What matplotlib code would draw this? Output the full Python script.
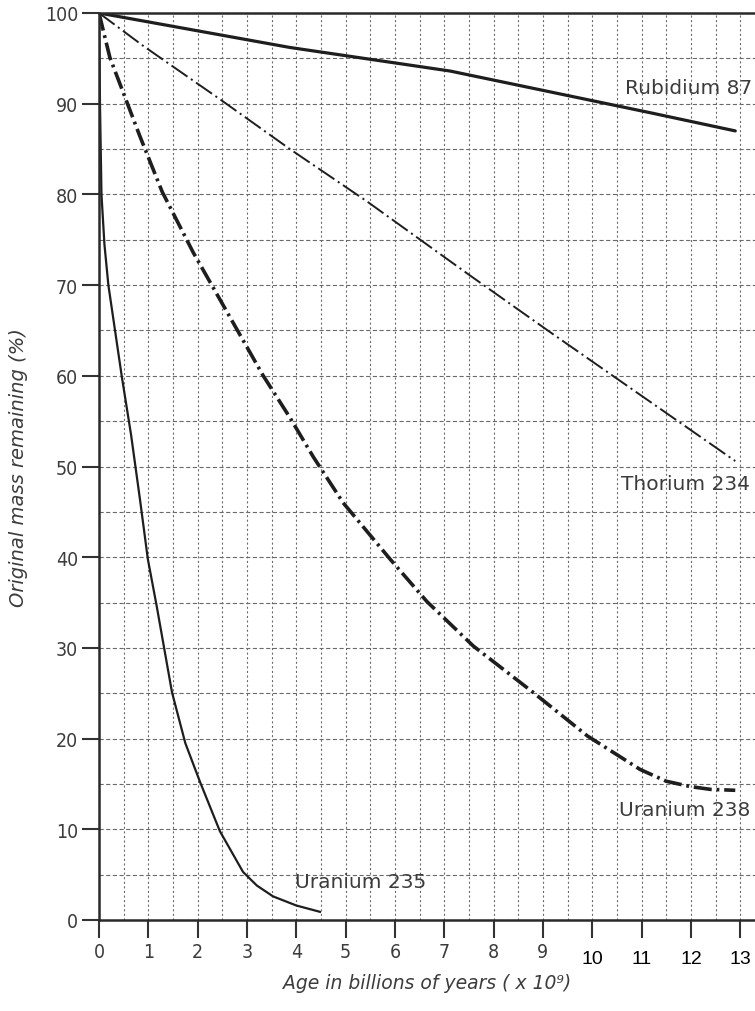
import matplotlib
matplotlib.use("Agg")
import matplotlib.pyplot as plt
from matplotlib.ticker import MultipleLocator
from matplotlib.transforms import ScaledTranslation

plt.rcParams['lines.scale_dashes'] = False

# ---- data ----
rb87_x = [0, 3.87, 7.12, 9.15, 11.18, 12.9]
rb87_y = [100, 96.2, 93.6, 91.3, 89.0, 87.0]

th234_x = [0, 0.89, 2.45, 3.87, 5.44, 7.46, 9.15, 12.9]
th234_y = [100, 96.4, 90.5, 85.0, 79.2, 71.3, 64.8, 50.6]

u238_x = [0, 0.22, 0.83, 1.28, 1.91, 3.33, 3.87, 4.34, 4.95, 5.9, 6.65,
          7.59, 8.8, 9.9, 10.97, 11.5, 12.0, 12.4, 12.9]
u238_y = [100, 95.1, 86.4, 80.3, 73.6, 60.0, 55.4, 51.1, 46.0, 39.8, 35.1,
          30.2, 25.1, 20.3, 16.6, 15.3, 14.7, 14.4, 14.3]

u235_x = [0, 0.02, 0.05, 0.11, 0.19, 0.46, 0.65, 0.83, 0.99, 1.17,
          1.48, 1.75, 2.05, 2.45, 2.92, 3.2, 3.53, 4.0, 4.48]
u235_y = [100, 90, 80, 74.5, 70, 60, 53.5, 46.4, 39.8, 34.6,
          25.1, 19.5, 15.2, 9.8, 5.3, 3.8, 2.6, 1.6, 0.9]

x_ticks = list(range(0, 14))
y_ticks = list(range(0, 101, 10))

labels = ["Rubidium 87", "Thorium 234", "Uranium 238", "Uranium 235"]

# ---- figure ----
fig = plt.figure(figsize=(7.55, 10.12), dpi=100)
ax = fig.add_axes([99 / 755, 1 - 921 / 1012, 1 - 99 / 755, (921 - 14) / 1012])

txt = '#3c3c3c'
ln = '#1e1e1e'

ax.plot(rb87_x, rb87_y, color=ln, lw=2.3, solid_capstyle='round')
ax.plot(th234_x, th234_y, color=ln, lw=1.4, dashes=(14, 3, 1.5, 3))
ax.plot(u238_x, u238_y, color=ln, lw=2.6, dashes=(13, 3.5, 2, 3.5))
ax.plot(u235_x, u235_y, color=ln, lw=1.6)

ax.set_xlim(0, 13.3)
ax.set_ylim(0, 100)

ax.set_xticks(x_ticks)
ax.set_yticks(y_ticks)
ax.xaxis.set_minor_locator(MultipleLocator(0.5))
ax.yaxis.set_minor_locator(MultipleLocator(5))
ax.tick_params(which='minor', length=0)
ax.tick_params(which='major', direction='out', length=13, width=1.5,
               color='#333333', labelsize=14, labelcolor=txt, pad=3)
ax.tick_params(axis='y', which='major', length=12, pad=3)
ax.xaxis.grid(True, which='both', linestyle=(0, (1.5, 1.8)),
              color='#6a6a6a', lw=0.8)
ax.yaxis.grid(True, which='both', linestyle=(0, (3.0, 1.8)),
              color='#6a6a6a', lw=0.8)
ax.set_axisbelow(True)

for s in ['left', 'bottom', 'top']:
    ax.spines[s].set_linewidth(1.8)
    ax.spines[s].set_color('#2a2a2a')
ax.spines['right'].set_visible(False)

for lab in ax.get_yticklabels():
    lab.set_fontstretch('condensed')
for i, lab in enumerate(ax.get_xticklabels()):
    if i >= 10:
        lab.set_color('black')
        lab.set_fontfamily('Liberation Sans')
        lab.set_fontsize(14)
        lab.set_transform(lab.get_transform() +
                          ScaledTranslation(0, -0.08, fig.dpi_scale_trans))
    else:
        lab.set_fontstretch('condensed')

ax.set_ylabel('Original mass remaining (%)', fontsize=14, style='italic',
              color=txt, labelpad=12)
ax.set_xlabel('Age in billions of years ( x 10\u2079)', fontsize=13.5,
              style='italic', color=txt, labelpad=4)

kw = dict(fontsize=14.5, color=txt)
ax.text(13.25, 91.8, labels[0], ha='right', va='center', **kw)
ax.text(13.2, 48.1, labels[1], ha='right', va='center', **kw)
ax.text(13.2, 12.2, labels[2], ha='right', va='center', **kw)
ax.text(3.97, 4.2, labels[3], ha='left', va='center', **kw)

fig.savefig('out.png', dpi=100)
